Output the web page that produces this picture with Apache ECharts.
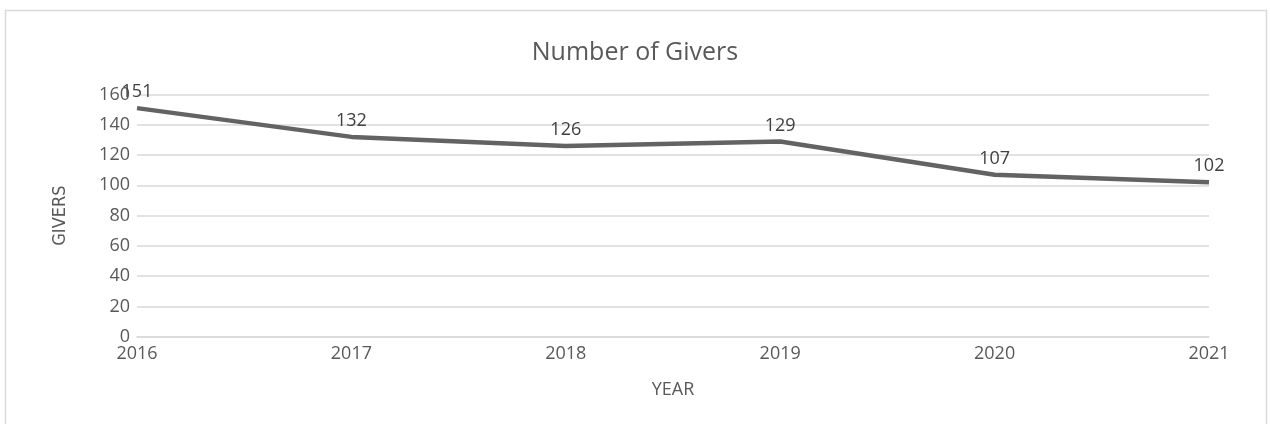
<!DOCTYPE html>
<html>
<head>
<meta charset="utf-8">
<script src="https://cdn.jsdelivr.net/npm/echarts@6/dist/echarts.min.js"></script>
<style>
html,body{margin:0;padding:0;background:#fff;}
#c{width:1270px;height:424px;}
</style>
</head>
<body>
<div id="c"></div>
<script>
const years = ['2016', '2017', '2018', '2019', '2020', '2021'];
const givers = [151, 132, 126, 129, 107, 102];
const yTicks = { min: 0, max: 160, interval: 20 };

const chart = echarts.init(document.getElementById('c'), null, { renderer: 'canvas' });
const txt = '#595959';
const grid = '#d9d9d9';
chart.setOption({
  animation: false,
  backgroundColor: '#fff',
  graphic: [{
    type: 'rect',
    shape: { x: 5.5, y: 10.5, width: 1261, height: 430 },
    style: { fill: 'none', stroke: grid, lineWidth: 1.5 },
    silent: true
  }],
  title: {
    text: 'Number of Givers',
    left: 'center',
    top: 40,
    padding: 0,
    textStyle: { fontFamily: 'Open Sans', fontSize: 25, fontWeight: 'normal', color: txt }
  },
  grid: { left: 137, right: 61, top: 94.5, bottom: 87.3, containLabel: false },
  xAxis: {
    type: 'category',
    data: years,
    boundaryGap: false,
    name: 'YEAR',
    nameLocation: 'middle',
    nameGap: 44,
    nameTextStyle: { fontFamily: 'Open Sans', fontSize: 18, color: txt },
    axisLine: { show: true, lineStyle: { color: grid, width: 1.5 } },
    axisTick: { show: false },
    axisLabel: { fontFamily: 'Open Sans', fontSize: 18, color: txt, margin: 8 },
    splitLine: { show: false }
  },
  yAxis: {
    type: 'value',
    min: yTicks.min,
    max: yTicks.max,
    interval: yTicks.interval,
    name: 'GIVERS',
    nameLocation: 'middle',
    nameGap: 68,
    nameRotate: 90,
    nameTextStyle: { fontFamily: '"DejaVu Sans Condensed", "Open Sans"', fontSize: 18, color: txt },
    axisLine: { show: false },
    axisTick: { show: false },
    axisLabel: { fontFamily: 'Open Sans', fontSize: 18, color: txt, margin: 7 },
    splitLine: { show: true, lineStyle: { color: grid, width: 1.5 } }
  },
  series: [{
    type: 'line',
    data: givers,
    symbol: 'circle',
    symbolSize: 2,
    showSymbol: true,
    itemStyle: { color: 'rgba(0,0,0,0)', borderWidth: 0 },
    lineStyle: { color: '#636363', width: 4.5 },
    label: {
      show: true,
      position: 'top',
      distance: 6,
      fontFamily: 'Open Sans',
      fontSize: 18,
      color: '#404040'
    },
    labelLayout: { hideOverlap: false }
  }]
});
</script>
</body>
</html>
